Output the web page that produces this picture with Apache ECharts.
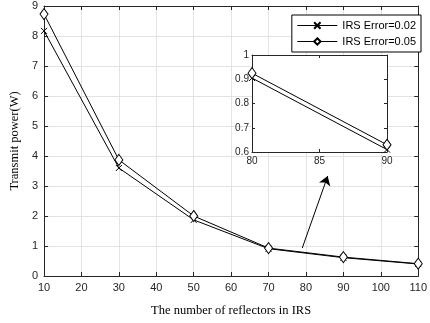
<!DOCTYPE html>
<html>
<head>
<meta charset="utf-8">
<script src="https://cdn.jsdelivr.net/npm/echarts@6/dist/echarts.min.js"></script>
<style>
  html, body { margin: 0; padding: 0; background: #fff; }
  #chart { width: 430px; height: 323px; }
</style>
</head>
<body>
<div id="chart"></div>
<script>
// Number of reflectors (x) and transmit power (W) for two IRS error levels
const reflectors = [10, 30, 50, 70, 90, 110];
const powerErr002 = [8.17, 3.60, 1.87, 0.91, 0.61, 0.40];
const powerErr005 = [8.73, 3.87, 2.00, 0.93, 0.63, 0.41];

// Zoomed view around 80..90 reflectors
const zoomReflectors = [80, 90];
const zoomErr002 = [0.905, 0.61];
const zoomErr005 = [0.925, 0.63];

// Annotation arrow pointing from the curve to the zoomed view (data coords)
const arrowFrom = [79, 0.93];
const arrowTo = [85.8, 3.33];

const seriesNames = ['IRS Error=0.02', 'IRS Error=0.05'];

const AX = '#262626';
const GRID = '#e3e3e3';
const SANS = '"Liberation Sans", Arial, sans-serif';
const SERIF = '"Liberation Serif", "Times New Roman", serif';

const crossPath = 'path://M0,0L10,10M10,0L0,10';

// Inset placement (pixels inside the 430x323 canvas)
const INSET = { left: 252, top: 55, right: 43, bottom: 171 };

function pairs(xs, ys) { return xs.map((x, i) => [x, ys[i]]); }

function boxAxis(base) {
  return Object.assign({
    type: 'value',
    axisLine: { show: true, onZero: false, lineStyle: { color: AX, width: 1 } },
    axisTick: { show: true, inside: true, length: 4, lineStyle: { color: AX } },
    axisLabel: { show: false },
    splitLine: { show: false }
  }, base);
}

const crossStyle = {
  symbol: crossPath, symbolSize: 6,
  itemStyle: { color: '#000', borderColor: '#000', borderWidth: 1 },
  lineStyle: { color: '#000', width: 1 }
};
const diamondStyle = {
  symbol: 'diamond', symbolSize: [8, 11],
  itemStyle: { color: '#fff', borderColor: '#000', borderWidth: 1 },
  lineStyle: { color: '#000', width: 1 }
};

const chart = echarts.init(document.getElementById('chart'), null, { renderer: 'canvas' });

chart.setOption({
  backgroundColor: '#fff',
  animation: false,
  grid: [
    { left: 39, top: 6, right: 7, bottom: 47, containLabel: false },
    Object.assign({ containLabel: false }, INSET)
  ],
  // white panel under the inset so the main grid lines do not show through
  graphic: [{
    type: 'rect', z: 4, silent: true,
    shape: { x: INSET.left, y: INSET.top, width: 430 - INSET.left - INSET.right, height: 323 - INSET.top - INSET.bottom },
    style: { fill: '#fff' }
  }],
  legend: {
    orient: 'vertical',
    right: 9, top: 15,
    data: seriesNames,
    itemWidth: 40, itemHeight: 8, itemGap: 5,
    padding: [5, 5, 5, 5],
    backgroundColor: '#fff',
    borderColor: '#000', borderWidth: 1,
    lineStyle: { width: 1, color: '#000' },
    textStyle: { fontFamily: SANS, fontSize: 11, color: '#000' },
    z: 10
  },
  xAxis: [
    {
      type: 'value', gridIndex: 0, min: 10, max: 110, interval: 10,
      name: 'The number of reflectors in IRS', nameLocation: 'middle', nameGap: 28,
      nameTextStyle: { fontFamily: SERIF, fontSize: 12.5, color: '#000' },
      axisLine: { show: true, onZero: false, lineStyle: { color: AX } },
      axisTick: { show: true, inside: true, length: 4, lineStyle: { color: AX } },
      axisLabel: { fontFamily: SANS, fontSize: 11, color: AX, margin: 6 },
      splitLine: { show: true, lineStyle: { color: GRID, width: 1 } }
    },
    boxAxis({ gridIndex: 0, min: 10, max: 110, interval: 10, position: 'top' }),
    {
      type: 'value', gridIndex: 1, min: 80, max: 90, interval: 5,
      axisLine: { show: true, onZero: false, lineStyle: { color: AX } },
      axisTick: { show: true, inside: true, length: 3, lineStyle: { color: AX } },
      axisLabel: { fontFamily: SANS, fontSize: 10, color: AX, margin: 4 },
      splitLine: { show: false }, z: 6
    },
    boxAxis({ gridIndex: 1, min: 80, max: 90, interval: 5, position: 'top', axisTick: { show: true, inside: true, length: 3, lineStyle: { color: AX } }, z: 6 })
  ],
  yAxis: [
    {
      type: 'value', gridIndex: 0, min: 0, max: 9, interval: 1,
      name: 'Transmit power(W)', nameLocation: 'middle', nameGap: 20,
      nameTextStyle: { fontFamily: SERIF, fontSize: 12.5, color: '#000' },
      axisLine: { show: true, onZero: false, lineStyle: { color: AX } },
      axisTick: { show: true, inside: true, length: 4, lineStyle: { color: AX } },
      axisLabel: { fontFamily: SANS, fontSize: 11, color: AX, margin: 6 },
      splitLine: { show: true, lineStyle: { color: GRID, width: 1 } }
    },
    boxAxis({ gridIndex: 0, min: 0, max: 9, interval: 1, position: 'right' }),
    {
      type: 'value', gridIndex: 1, min: 0.6, max: 1, interval: 0.1,
      axisLine: { show: true, onZero: false, lineStyle: { color: AX } },
      axisTick: { show: true, inside: true, length: 3, lineStyle: { color: AX } },
      axisLabel: { fontFamily: SANS, fontSize: 10, color: AX, margin: 3,
        formatter: v => (Math.abs(v - 1) < 1e-9 ? '1' : v.toFixed(1)) },
      splitLine: { show: false }, z: 6
    },
    boxAxis({ gridIndex: 1, min: 0.6, max: 1, interval: 0.1, position: 'right', axisTick: { show: true, inside: true, length: 3, lineStyle: { color: AX } }, z: 6 })
  ],
  series: [
    Object.assign({
      name: seriesNames[0], type: 'line', xAxisIndex: 0, yAxisIndex: 0,
      data: pairs(reflectors, powerErr002), showAllSymbol: true, z: 3
    }, crossStyle),
    Object.assign({
      name: seriesNames[1], type: 'line', xAxisIndex: 0, yAxisIndex: 0,
      data: pairs(reflectors, powerErr005), showAllSymbol: true, z: 3,
      markLine: {
        silent: true, animation: false,
        symbol: ['none', 'arrow'], symbolSize: 9,
        itemStyle: { color: '#000' },
        lineStyle: { color: '#000', width: 1, type: 'solid' },
        label: { show: false },
        emphasis: { disabled: true },
        data: [[{ coord: arrowFrom }, { coord: arrowTo }]]
      }
    }, diamondStyle),
    Object.assign({
      name: seriesNames[0], type: 'line', xAxisIndex: 2, yAxisIndex: 2,
      data: pairs(zoomReflectors, zoomErr002), showAllSymbol: true, z: 7
    }, crossStyle),
    Object.assign({
      name: seriesNames[1], type: 'line', xAxisIndex: 2, yAxisIndex: 2,
      data: pairs(zoomReflectors, zoomErr005), showAllSymbol: true, z: 7
    }, diamondStyle)
  ]
});
</script>
</body>
</html>
